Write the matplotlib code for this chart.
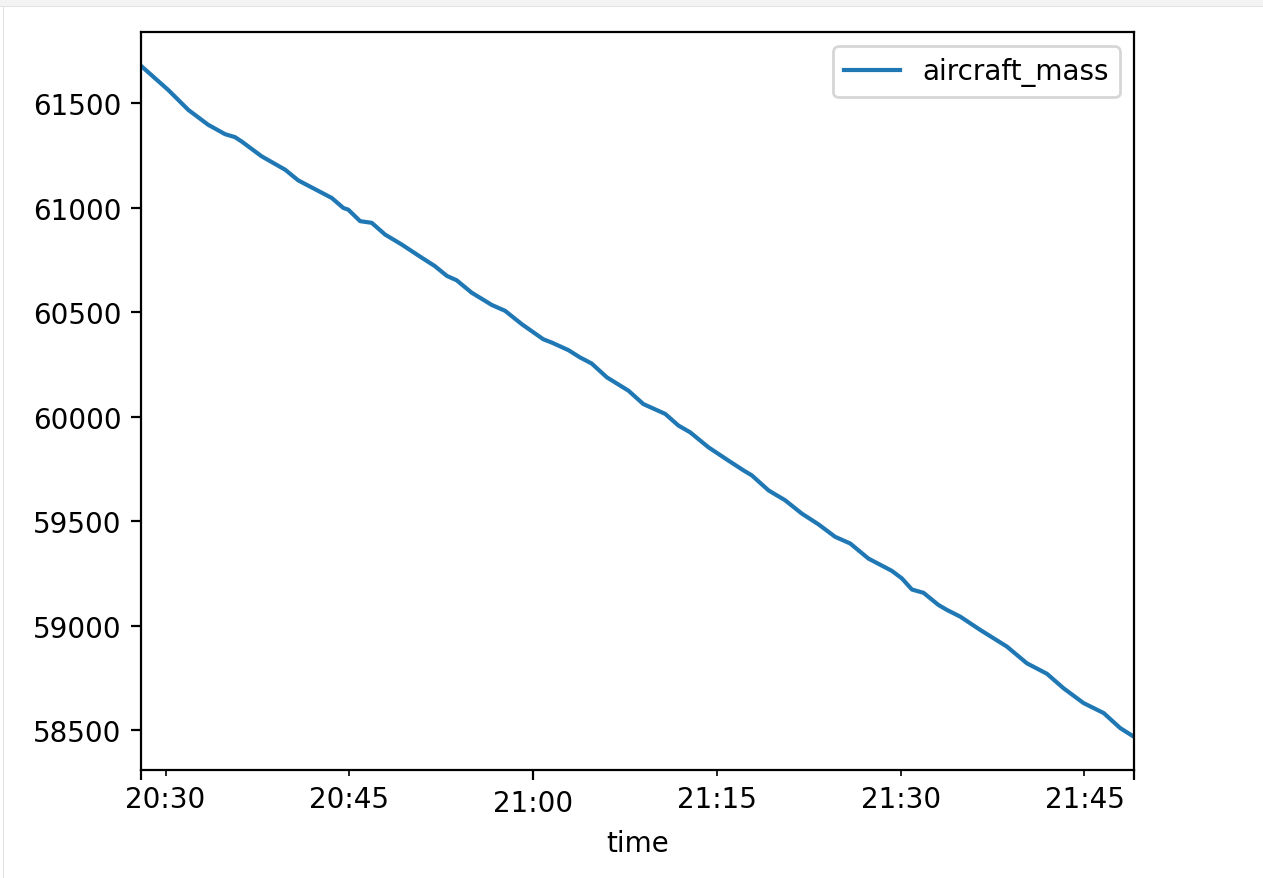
import pandas as pd
import matplotlib
matplotlib.use("Agg")
import matplotlib.pyplot as plt
import matplotlib.dates as mdates
import matplotlib.ticker as mticker
from matplotlib.patches import Rectangle

# aircraft mass samples along the flight
times = ["20:28:00", "20:30:14", "20:31:52", "20:33:29", "20:34:52", "20:35:40",
         "20:36:13", "20:37:51", "20:39:46", "20:40:50", "20:43:34", "20:44:31",
         "20:44:55", "20:45:53", "20:46:50", "20:47:55", "20:49:17", "20:50:55",
         "20:51:59", "20:52:58", "20:53:46", "20:54:59", "20:56:38", "20:57:43",
         "20:59:05", "21:00:50", "21:01:32", "21:02:53", "21:03:50", "21:04:47",
         "21:06:01", "21:07:47", "21:09:00", "21:10:47", "21:11:52", "21:12:49",
         "21:14:19", "21:15:56", "21:17:10", "21:17:51", "21:19:13", "21:20:34",
         "21:21:56", "21:23:17", "21:24:39", "21:25:53", "21:27:22", "21:29:17",
         "21:30:06", "21:30:55", "21:31:52", "21:33:05", "21:33:47", "21:34:52",
         "21:36:29", "21:38:40", "21:40:18", "21:41:56", "21:43:17", "21:44:55",
         "21:46:34", "21:47:55", "21:49:00"]
aircraft_mass = [61678, 61562, 61467, 61396, 61351, 61337,
                 61316, 61245, 61181, 61130, 61046, 60998,
                 60990, 60935, 60927, 60871, 60823, 60760,
                 60720, 60673, 60652, 60593, 60534, 60506,
                 60442, 60370, 60354, 60318, 60283, 60254,
                 60188, 60124, 60060, 60013, 59957, 59925,
                 59853, 59790, 59743, 59719, 59647, 59600,
                 59536, 59485, 59425, 59393, 59321, 59262,
                 59226, 59173, 59157, 59099, 59075, 59043,
                 58980, 58900, 58820, 58770, 58701, 58630,
                 58582, 58510, 58470]

major_times = ["20:28:00", "21:00:00", "21:49:00"]
major_labels = ["", "21:00", ""]
minor_times = ["20:30:00", "20:45:00", "21:15:00", "21:30:00", "21:45:00"]

day = "2023-01-01 "


def to_num(strs):
    return mdates.date2num(pd.to_datetime([day + s for s in strs]))


t = pd.to_datetime([day + s for s in times])
df = pd.DataFrame({"aircraft_mass": aircraft_mass}, index=pd.Index(t, name="time"))

W, H, DPI = 1263, 879, 200
fig = plt.figure(figsize=(W / DPI, H / DPI), dpi=DPI)

# notebook cell frame
fig.patches.append(Rectangle((0, 1 - 7 / H), 1, 7 / H, transform=fig.transFigure,
                             facecolor="#f3f3f3", edgecolor="none", zorder=0))
fig.patches.append(Rectangle((0, 1 - 8 / H), 1, 1 / H, transform=fig.transFigure,
                             facecolor="#e2e2e2", edgecolor="none", zorder=0))
fig.patches.append(Rectangle((3 / W, 0), 1 / W, 1 - 8 / H, transform=fig.transFigure,
                             facecolor="#e2e2e2", edgecolor="none", zorder=0))

ax = fig.add_axes([141 / W, (H - 771) / H, (1133.5 - 141) / W, (771 - 33.3) / H])
ax.plot(df.index, df["aircraft_mass"], color="#1f77b4", lw=1.5, label="aircraft_mass")
ax.set_xlim(df.index[0], df.index[-1])

ax.xaxis.set_major_locator(mticker.FixedLocator(to_num(major_times)))
ax.xaxis.set_major_formatter(mticker.FixedFormatter(major_labels))
ax.xaxis.set_minor_locator(mticker.FixedLocator(to_num(minor_times)))
ax.xaxis.set_minor_formatter(mdates.DateFormatter("%H:%M"))

ax.set_xlabel("time")
ax.legend(loc="upper right")

fig.savefig("out.png", dpi=DPI)
